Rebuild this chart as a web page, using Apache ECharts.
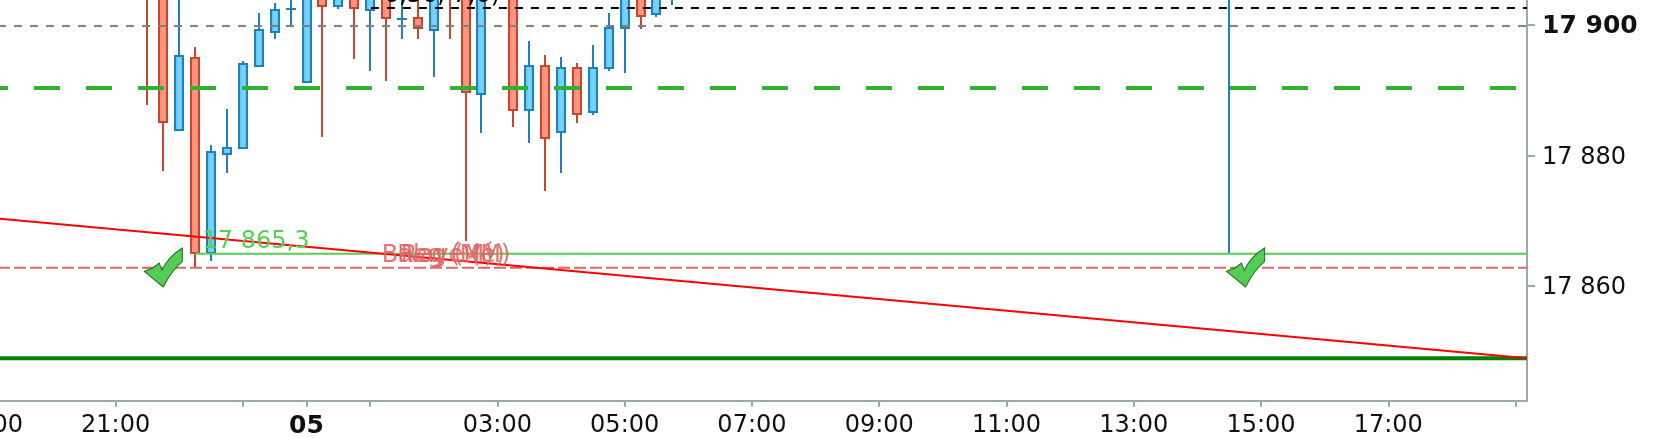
<!DOCTYPE html>
<html>
<head>
<meta charset="utf-8">
<style>html,body{margin:0;padding:0;background:#fff;overflow:hidden}#c{width:1660px;height:438px}</style>
<script src="https://cdn.jsdelivr.net/npm/echarts@6/dist/echarts.min.js"></script>
</head>
<body>
<div id="c"></div>
<script>
// minutes relative to 00:00 on the 5th
const minutes = [-150,-135,-120,-105,-90,-75,-60,-45,-30,-15,0,15,30,45,60,75,90,105,120,135,150,165,195,210,225,240,255,270,285,300,315,330,345,870];
const opens  = [17915,17912,17883.78,17895.04,17864.92,17880.11,17881.02,17893.56,17898.76,17902.38,17891.11,17906,17902.74,17907,17902.12,17908,17900.85,17901.11,17899.07,17910,17915,17889.28,17915,17886.83,17893.78,17883.47,17893.47,17886.53,17893.26,17899.37,17908,17901.51,17906,17906];
const closes = [17908,17885,17895.35,17864.92,17880.67,17881.28,17894.13,17899.28,17902.34,17902.38,17912,17902.74,17906,17902.43,17908,17900.9,17900.85,17899.37,17907,17906,17889.59,17915,17886.83,17893.78,17882.55,17893.47,17886.22,17893.47,17899.59,17906,17901.21,17908,17910,17910];
const lows   = [17887.7,17877.66,17883.78,17862.83,17863.9,17877.35,17881.02,17893.56,17897.84,17899.89,17891.11,17882.86,17902.38,17894.78,17892.95,17891.42,17897.84,17897.84,17892.03,17897.84,17866.96,17883.47,17884.39,17881.94,17874.6,17877.35,17885,17886.22,17892.95,17892.64,17899.37,17901.21,17903,17864.96];
const highs  = [17918,17914,17906,17896.57,17881.59,17887.09,17894.43,17901.77,17903.3,17905,17914,17908,17908,17909,17910,17910,17906,17905,17909,17912,17917,17917,17917,17897.49,17895.35,17895.04,17894.13,17896.88,17901.77,17908,17910,17910,17912,17912];

const xTickValues = [-300,-180,-60,0,60,180,300,420,540,660,780,900,1020,1140];
const xLabelValues = [-300,-180,0,180,300,420,540,660,780,900,1020];
const xLabelTexts = ['19:00','21:00','05','03:00','05:00','07:00','09:00','11:00','13:00','15:00','17:00'];
const yTickValues = [17860,17880,17900];
const yTickTexts = ['17 860','17 880','17 900'];

const xMin = -360, xMax = 1150.8, yMin = 17842.49, yMax = 17903.76;

const greenDashed = [[-355,17890.3],[xMax,17890.3]];
const grayDashed = [[-351.2,17899.78],[xMax,17899.78]];
const blackDashed = [[60.7,17902.54],[xMax,17902.54]];
const redDashed = [[-351.2,17862.83],[xMax,17862.83]];
const greenThin = [[-105,17864.97],[xMax,17864.97]];
const darkGreen = [[xMin,17849],[xMax,17849]];
const redTrend = [[xMin,17871.36],[xMax,17848.97]];
const checks = [[-135,17862.86],[885.5,17862.86]];
const greenText = [[-98.5,17866.75,'17 865,3']];
const blackText = [[72.5,17902.54,'6,56, 7,6)']];
const pinkText = [[70.5,17864.6,'Balayé (M)'],[88.5,17864.6,'Reg (M)'],[85,17864.6,'Reg (Mé)']];

const FONT = '"DejaVu Sans"';
const chart = echarts.init(document.getElementById('c'), null, {renderer:'canvas'});
const grad = (a,b,c)=>new echarts.graphic.LinearGradient(0,0,1,0,[{offset:0,color:a},{offset:.5,color:b},{offset:1,color:c}]);
const upFill = grad('#55bdf2','#7ad6ff','#5cc4f6'), downFill = grad('#fa8068','#ff9a84','#fb8670');
const UP='#2080b8', DOWN='#c8452e';
const lineS = (data,color,width,type,z)=>({type:'line',data,symbol:'none',silent:true,z:z||3,animation:false,
  lineStyle:{color,width,type:type||'solid',cap:'butt'}});
const textS = (data,color,opacity,offset)=>({type:'scatter',data,clip:false,symbol:'circle',symbolSize:1,z:6,silent:true,
  itemStyle:{opacity:0},labelLayout:offset?{dy:offset[1]}:undefined,
  label:{show:true,position:'right',distance:0,formatter:p=>p.data[2],color,opacity:opacity||1,fontSize:24,fontFamily:FONT}});
const CHECK='path://M35 95L60 85L80 70L88 92Q108 50 150 25L150 65Q118 92 92 142Z';

function renderCandle(params, api){
  const m=api.value(0), o=api.value(1), c=api.value(2), l=api.value(3), h=api.value(4);
  const X=Math.round(api.coord([m,o])[0]);
  const yT=Math.round(api.coord([m,Math.max(o,c)])[1]), yB=Math.round(api.coord([m,Math.min(o,c)])[1]);
  const yH=Math.round(api.coord([m,h])[1]), yL=Math.round(api.coord([m,l])[1]);
  const color=c>=o?UP:DOWN, fill=c>=o?upFill:downFill;
  const ls={stroke:color,lineWidth:2,fill:null};
  const kids=[
    {type:'line',shape:{x1:X,y1:yH,x2:X,y2:yT},style:ls},
    {type:'line',shape:{x1:X,y1:yB,x2:X,y2:yL},style:ls}];
  if(yB-yT<3) kids.push({type:'line',shape:{x1:X-5,y1:yT,x2:X+5,y2:yT},style:ls});
  else kids.push({type:'rect',shape:{x:X-4,y:yT+1,width:8,height:yB-yT-2},style:{fill,stroke:color,lineWidth:2}});
  return {type:'group',children:kids};
}

chart.setOption({
  animation:false,
  backgroundColor:'#fff',
  grid:{left:-75.3,right:133,top:0,bottom:37.3,containLabel:false,outerBoundsMode:'none'},
  xAxis:{type:'value',min:xMin,max:xMax,splitLine:{show:false},
    axisLine:{show:true,onZero:false,lineStyle:{color:'#9aa8b0',width:2}},
    axisTick:{show:true,length:6,lineStyle:{color:'#9aa8b0',width:2},customValues:xTickValues},
    axisLabel:{show:true,customValues:xLabelValues,margin:13,fontSize:24,fontFamily:FONT,color:'#111',
      showMinLabel:true,showMaxLabel:true,hideOverlap:false,
      formatter:v=>{const t=xLabelTexts[xLabelValues.indexOf(v)];return v===0?'{b|'+t+'}':t;},
      rich:{b:{fontWeight:'bold',fontSize:25,fontFamily:FONT,color:'#111'}}}},
  yAxis:{type:'value',position:'right',min:yMin,max:yMax,splitLine:{show:false},
    axisLine:{show:true,onZero:false,lineStyle:{color:'#9aa8b0',width:2}},
    axisTick:{show:true,length:8,lineStyle:{color:'#9aa8b0',width:2},customValues:yTickValues},
    axisLabel:{show:true,customValues:yTickValues,margin:15,fontSize:24,fontFamily:FONT,color:'#111',padding:[4,0,0,0],
      formatter:v=>{const t=yTickTexts[yTickValues.indexOf(v)];return v===17900?'{b|'+t+'}':t;},
      rich:{b:{fontWeight:'bold',fontSize:25,fontFamily:FONT,color:'#111'}}}},
  series:[
    {type:'custom',z:2,silent:true,clip:true,renderItem:renderCandle,
      encode:{x:0,y:[1,2,3,4]},
      data:minutes.map((m,i)=>[m,opens[i],closes[i],lows[i],highs[i]])},
    lineS(greenDashed,'#2fb32f',4,[26,26]),
    lineS(grayDashed,'#808080',2,[8,8]),
    lineS(blackDashed,'#000000',2,[8,8]),
    lineS(redDashed,'#e06666',2,[12,4]),
    lineS(greenThin,'#52d052',2),
    lineS(darkGreen,'#008000',4),
    lineS(redTrend,'#ff0000',2,'solid',4),
    textS(greenText,'#55d055'),
    textS(blackText,'#000',1,[0,-12]),
    textS(pinkText,'#e06666',.9),
    {type:'scatter',data:checks,symbol:CHECK,symbolSize:[38,39],symbolKeepAspect:false,z:7,silent:true,
      itemStyle:{color:'#55cc55',borderColor:'#1e6e1e',borderWidth:1,opacity:1}}
  ]
});
</script>
</body>
</html>
